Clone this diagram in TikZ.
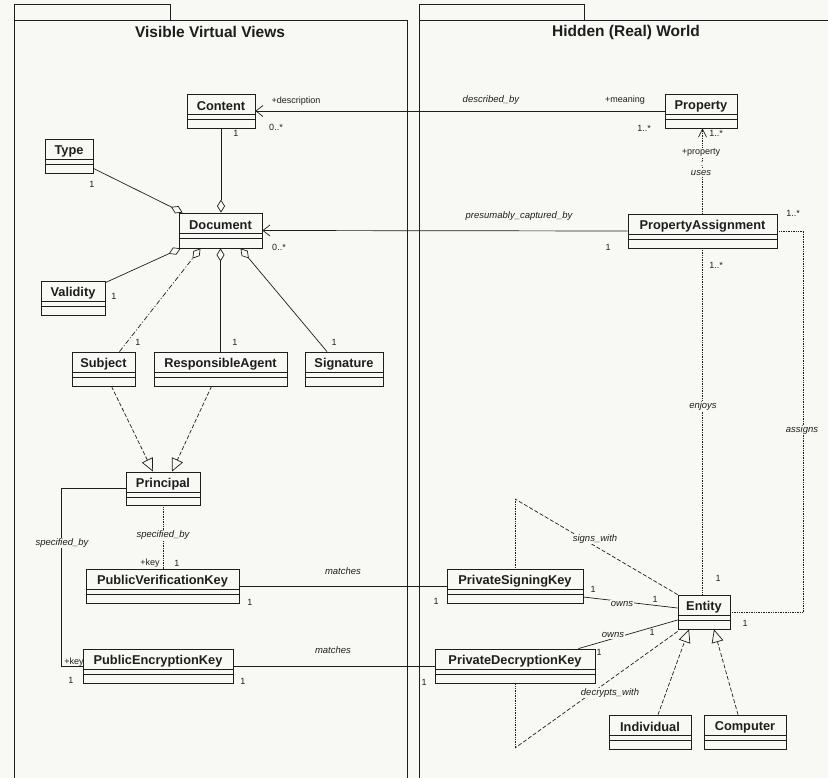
\documentclass[tikz,border=0pt]{standalone}
\usepackage{fontspec}
\setmainfont{Liberation Sans}
\usetikzlibrary{arrows.meta,calc}
\definecolor{bgc}{RGB}{248,248,244}
\definecolor{inkc}{RGB}{30,30,30}
\newcommand\umlcls[6]{%
  \node[clsbox, minimum width={#5-#3}, minimum height={#6-#4}] (#1) at ({(#3+#5)/2},{(#4+#6)/2}) {};
  \node[clsname] (#1-name) at ($(#1.north)+(0,12.5)$) {#2};
  \draw[ln] ($(#1.north west)+(0,20.5)$) -- ($(#1.north east)+(0,20.5)$);
  \draw[ln] ($(#1.north west)+(0,25.5)$) -- ($(#1.north east)+(0,25.5)$);
}
\begin{document}
\begin{tikzpicture}[x=1pt,y=-1pt,
  ln/.style={draw=inkc, line width=0.7pt},
  clsbox/.style={draw=inkc, line width=0.8pt, rectangle, inner sep=0pt},
  clsname/.style={font=\fontsize{12.8}{14}\selectfont\bfseries, text=inkc, inner sep=0pt, anchor=center},
  pkgtitle/.style={font=\fontsize{15.5}{17}\selectfont\bfseries, text=inkc, inner sep=0pt},
  lbl/.style={font=\fontsize{9}{10}\selectfont, text=inkc, inner sep=1pt},
  asc/.style={font=\fontsize{9.5}{10}\selectfont\itshape, text=inkc, inner sep=1pt},
  onbg/.style={fill=bgc},
  dep/.style={ln, densely dotted},
  dsh/.style={ln, dash pattern=on 4pt off 2pt},
  agg/.style={ln, -{Diamond[open,length=13pt,width=8pt]}},
  gen/.style={ln, dash pattern=on 4pt off 2pt, -{Triangle[open,length=13pt,width=12pt]}},
  nav/.style={ln, -{Straight Barb[length=7pt,width=11pt]}},
]
\fill[bgc] (0,0) rectangle (828,778);
\useasboundingbox (0,0) rectangle (828,778);

% packages
\draw[ln] (14,778) -- (14,20) -- (407,20) -- (407,778);
\draw[ln] (14,20) -- (14,4) -- (170,4) -- (170,20);
\draw[ln] (419,778) -- (419,20) -- (828,20);
\draw[ln] (419,20) -- (419,4) -- (584,4) -- (584,20);
\node[pkgtitle] (t1) at (210,32) {Visible Virtual Views};
\node[pkgtitle] (t2) at (626,32) {Hidden (Real) World};

% classes
\umlcls{Content}{Content}{187}{94}{255}{128}
\umlcls{Type}{Type}{45}{139}{93}{173}
\umlcls{Document}{Document}{179}{213}{262}{248}
\umlcls{Validity}{Validity}{41}{281}{105}{315}
\umlcls{Subject}{Subject}{72}{352}{135}{386}
\umlcls{RA}{ResponsibleAgent}{154}{352}{287}{386}
\umlcls{Signature}{Signature}{305}{352}{383}{386}
\umlcls{Principal}{Principal}{126}{472}{200}{505}
\umlcls{PVK}{PublicVerificationKey}{86}{569}{239}{603}
\umlcls{PEK}{PublicEncryptionKey}{83}{649}{233}{683}
\umlcls{Property}{Property}{665}{94}{737}{128}
\umlcls{PA}{PropertyAssignment}{628}{214}{777}{248}
\umlcls{PSK}{PrivateSigningKey}{447}{569}{583}{603}
\umlcls{Entity}{Entity}{678}{595}{730}{629}
\umlcls{PDK}{PrivateDecryptionKey}{435}{649}{595}{683}
\umlcls{Individual}{Individual}{609}{715}{691}{749}
\umlcls{Computer}{Computer}{704}{715}{786}{749}

% described_by
\draw[nav] (Property.west) -- (Content.east);
\node[lbl] (l1) at (296,101) {+description};
\node[lbl] (l2) at (276,127) {0..*};
\node[asc] (l3) at (491,100) {described\_by};
\node[lbl] (l4) at (625,100) {+meaning};
\node[lbl] (l5) at (644,128) {1..*};

% presumably_captured_by
\draw[nav] (PA.west) -- (Document.east);
\node[asc] (l6) at (519,216) {presumably\_captured\_by};
\node[lbl] (l7) at (279,247) {0..*};
\node[lbl] (l8) at (608,247) {1};

% uses
\draw[dep, -{Straight Barb[length=8pt,width=8pt]}] (PA.north) -- (PA.north |- Property.south);
\node[lbl] (l9) at (716,133) {1..*};
\node[lbl, onbg] (l10) at (701,153) {+property};
\node[lbl, onbg] (l11) at (702,164) {:};
\node[asc, onbg] (l12) at (701,173) {uses};

% enjoys
\draw[dep] (PA.south) -- (PA.south |- Entity.north);
\node[lbl] (l13) at (716,265) {1..*};
\node[asc, onbg] (l14) at (703,406) {enjoys};
\node[lbl] (l15) at (718,578) {1};

% assigns
\draw[dep] (PA.east) -| ($(Entity.east)+(73,0)$) -- (Entity.east);
\node[lbl] (l16) at (793,213) {1..*};
\node[asc, onbg] (l17) at (802,430) {assigns};
\node[lbl] (l18) at (745,623) {1};

% aggregations into Document
\draw[agg] (Content.south) -- (Content.south |- Document.north);
\node[lbl] (l19) at (236,133) {1};
\draw[agg] ($(Type.south east)+(0,-5)$) -- ($(Document.north west)+(4,0)$);
\node[lbl] (l20) at (92,184) {1};
\draw[agg] ($(Validity.north east)+(0,2)$) -- ($(Document.south west)+(2,0)$);
\node[lbl] (l21) at (114,296) {1};
\draw[agg, dash pattern=on 5pt off 2pt on 1pt off 2pt] ($(Subject.north)+(16,0)$) -- ($(Document.south)+(-20,0)$);
\node[lbl] (l22) at (138,342) {1};
\draw[agg] (RA.north) -- (RA.north |- Document.south);
\node[lbl] (l23) at (235,342) {1};
\draw[agg] ($(Signature.north)+(-17,0)$) -- ($(Document.south)+(20,0)$);
\node[lbl] (l24) at (334,342) {1};

% generalizations to Principal
\draw[gen] ($(Subject.south)+(8,0)$) -- ($(Principal.north)+(-10,0)$);
\draw[gen] ($(RA.south)+(-9,0)$) -- ($(Principal.north)+(9,0)$);

% specified_by (verification)
\draw[dep] (Principal.south) -- (Principal.south |- PVK.north);
\node[asc, onbg] (l25) at (163,535) {specified\_by};
\node[lbl] (l26) at (150,563) {+key};
\node[lbl] (l27) at (177,563) {1};

% specified_by (encryption)
\draw[ln] (Principal.west) -| ($(PEK.west)+(-21,0)$) -- (PEK.west);
\node[asc, onbg] (l28) at (62,543) {specified\_by};
\node[lbl] (l29) at (74,662) {+key};
\node[lbl] (l30) at (71,680) {1};

% matches
\draw[ln] (PVK.east) -- (PSK.west);
\node[asc] (l31) at (343,571) {matches};
\node[lbl] (l32) at (250,602) {1};
\node[lbl] (l33) at (436,601) {1};
\draw[ln] (PEK.east) -- (PDK.west);
\node[asc] (l34) at (333,650) {matches};
\node[lbl] (l35) at (243,681) {1};
\node[lbl] (l36) at (424,682) {1};

% signs_with
\coordinate (sapex) at (515,499);
\draw[dsh] (Entity.north west) -- (sapex);
\draw[dep] (sapex) -- (PSK.north);
\node[asc, onbg] (l37) at (595,539) {signs\_with};

% decrypts_with
\coordinate (dapex) at (515,748);
\draw[dsh] ($(Entity.south west)+(0,2)$) -- (dapex);
\draw[dep] (dapex) -- (PDK.south);
\node[asc, onbg] (l38) at (610,693) {decrypts\_with};

% owns
\draw[ln] ($(PSK.east)+(0,11)$) -- ($(Entity.west)+(0,-4)$);
\node[asc, onbg] (l39) at (622,604) {owns};
\node[lbl] (l40) at (593,589) {1};
\node[lbl] (l41) at (655,599) {1};
\draw[ln] ($(PDK.north east)+(-17,0)$) -- ($(Entity.west)+(0,8)$);
\node[asc, onbg] (l42) at (613,635) {owns};
\node[lbl] (l43) at (652,632) {1};
\node[lbl] (l44) at (599,652) {1};

% generalizations to Entity
\draw[gen] ($(Individual.north)+(8,0)$) -- ($(Entity.south)+(-15,0)$);
\draw[gen] ($(Computer.north)+(-7,0)$) -- ($(Entity.south)+(10,0)$);
\end{tikzpicture}
\end{document}
